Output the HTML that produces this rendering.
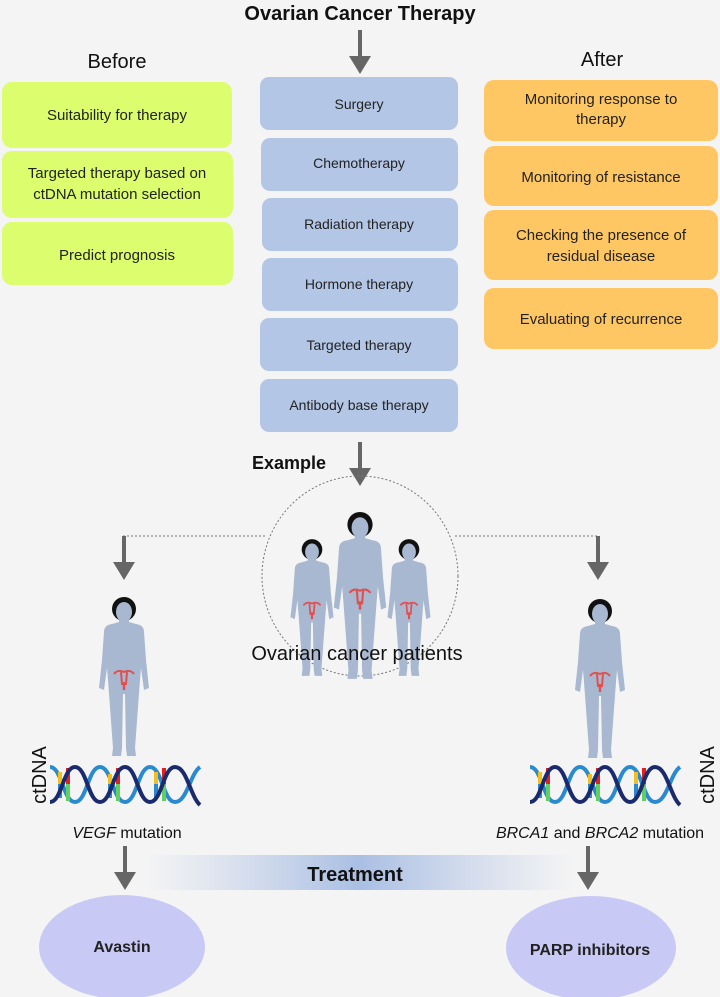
<!DOCTYPE html>
<html><head><meta charset="utf-8"><style>
html,body{margin:0;padding:0;background:#f4f4f4}
svg{display:block}
text{font-family:"Liberation Sans",Arial,sans-serif}
</style></head><body>
<svg width="720" height="997" viewBox="0 0 720 997" xmlns="http://www.w3.org/2000/svg">
<defs>
<linearGradient id="tg" x1="0" x2="1" y1="0" y2="0">
<stop offset="0" stop-color="#b8c8e6" stop-opacity="0"/>
<stop offset="0.5" stop-color="#aabfe4"/>
<stop offset="1" stop-color="#b8c8e6" stop-opacity="0"/>
</linearGradient>
<g id="arr"><rect x="-2" y="0" width="4" height="30" fill="#666"/><path d="M-11,26 L11,26 L0,44 Z" fill="#666"/></g>
<g id="fig">
<path d="M-20,34 Q-20,27 -12,26 L-5,24 L-5,19 L5,19 L5,24 L12,26 Q20,27 20,34 L22,62 L25,90 L20,92 L17,70 L16,82 L11,150 L12,158 L3,158 L2,150 L1,96 L-1,96 L-2,150 L-3,158 L-12,158 L-11,150 L-16,82 L-17,70 L-20,92 L-25,90 L-22,62 Z" fill="#a8b8d0"/>
<ellipse cx="0" cy="11" rx="12" ry="12" fill="#111"/>
<ellipse cx="0" cy="14" rx="8" ry="10" fill="#a8b8d0"/>
<path d="M-10,76 Q-6,71 0,74 Q6,71 10,76 M-3,74 L-2,86 L2,86 L3,74" stroke="#e05050" stroke-width="2" fill="none"/>
<rect x="-1.2" y="84" width="2.4" height="8" fill="#e05050"/>
</g>
<g id="dna">
<path d="M0,5 C12,5 13,40 25,40 C37,40 38,5 50,5 C62,5 63,40 75,40 C87,40 88,5 100,5 C112,5 113,40 125,40 C137,40 140,12 150,5" stroke="#2a8ad0" stroke-width="4" fill="none"/>
<g stroke-width="4">
<line x1="10" y1="10" x2="10" y2="22" stroke="#f0c020"/><line x1="10" y1="22" x2="10" y2="36" stroke="#2a8ad0"/>
<line x1="18" y1="6" x2="18" y2="22" stroke="#e02020"/><line x1="18" y1="22" x2="18" y2="39" stroke="#60d060"/>
<line x1="60" y1="12" x2="60" y2="22" stroke="#f0c020"/><line x1="60" y1="22" x2="60" y2="36" stroke="#2a8ad0"/>
<line x1="68" y1="6" x2="68" y2="22" stroke="#e02020"/><line x1="68" y1="22" x2="68" y2="39" stroke="#60d060"/>
<line x1="106" y1="10" x2="106" y2="22" stroke="#f0c020"/><line x1="106" y1="22" x2="106" y2="36" stroke="#2a8ad0"/>
<line x1="114" y1="6" x2="114" y2="22" stroke="#e02020"/><line x1="114" y1="22" x2="114" y2="39" stroke="#60d060"/>
</g>
<path d="M0,40 C12,40 13,5 25,5 C37,5 38,40 50,40 C62,40 63,5 75,5 C87,5 88,40 100,40 C112,40 113,5 125,5 C137,5 140,34 150,43" stroke="#1a2a6c" stroke-width="4" fill="none"/>
</g>
</defs>

<text x="360" y="20" text-anchor="middle" font-size="20" font-weight="bold" fill="#111">Ovarian Cancer Therapy</text>
<use href="#arr" x="360" y="30"/>
<text x="117" y="68" text-anchor="middle" font-size="20" fill="#111">Before</text>
<text x="602" y="66" text-anchor="middle" font-size="20" fill="#111">After</text>

<g fill="#dcfd6e">
<rect x="2" y="82" width="230" height="66" rx="10"/>
<rect x="2" y="151" width="231" height="67" rx="10"/>
<rect x="2" y="222" width="231" height="63" rx="10"/>
</g>
<g font-size="15" fill="#222" text-anchor="middle">
<text x="117" y="120">Suitability for therapy</text>
<text x="117" y="178">Targeted therapy based on</text>
<text x="117" y="199">ctDNA mutation selection</text>
<text x="117" y="260">Predict prognosis</text>
</g>

<g fill="#b4c6e6">
<rect x="260" y="77" width="198" height="53" rx="9"/>
<rect x="261" y="138" width="197" height="53" rx="9"/>
<rect x="262" y="198" width="196" height="53" rx="9"/>
<rect x="262" y="258" width="196" height="53" rx="9"/>
<rect x="260" y="318" width="198" height="53" rx="9"/>
<rect x="260" y="379" width="198" height="53" rx="9"/>
</g>
<g font-size="14" fill="#222" text-anchor="middle">
<text x="359" y="109">Surgery</text>
<text x="359" y="168">Chemotherapy</text>
<text x="359" y="229">Radiation therapy</text>
<text x="359" y="289">Hormone therapy</text>
<text x="359" y="350">Targeted therapy</text>
<text x="359" y="410">Antibody base therapy</text>
</g>

<g fill="#fec764">
<rect x="484" y="80" width="234" height="61" rx="10"/>
<rect x="484" y="146" width="234" height="60" rx="10"/>
<rect x="484" y="210" width="234" height="70" rx="10"/>
<rect x="484" y="288" width="234" height="61" rx="10"/>
</g>
<g font-size="15" fill="#222" text-anchor="middle">
<text x="601" y="104">Monitoring response to</text>
<text x="601" y="124">therapy</text>
<text x="601" y="182">Monitoring of resistance</text>
<text x="601" y="240">Checking the presence of</text>
<text x="601" y="261">residual disease</text>
<text x="601" y="324">Evaluating of recurrence</text>
</g>

<text x="289" y="469" text-anchor="middle" font-size="18" font-weight="bold" fill="#111">Example</text>
<use href="#arr" x="360" y="442"/>

<ellipse cx="360" cy="576" rx="98" ry="100" fill="none" stroke="#777" stroke-width="1" stroke-dasharray="2,2"/>
<path d="M123,536 L265,536 M455,536 L598,536" stroke="#777" stroke-width="1" stroke-dasharray="2,2"/>
<use href="#arr" x="124" y="536"/>
<use href="#arr" x="598" y="536"/>

<use href="#fig" transform="translate(312,540) scale(0.86)"/>
<use href="#fig" transform="translate(409,540) scale(0.86)"/>
<use href="#fig" transform="translate(360,513) scale(1.05)"/>
<text x="357" y="660" text-anchor="middle" font-size="20" fill="#111">Ovarian cancer patients</text>

<use href="#fig" transform="translate(124,598)"/>
<use href="#fig" transform="translate(600,600)"/>

<use href="#dna" transform="translate(50,762)"/>
<use href="#dna" transform="translate(530,762)"/>
<text transform="translate(46,775) rotate(-90)" text-anchor="middle" font-size="20" fill="#111">ctDNA</text>
<text transform="translate(714,775) rotate(-90)" text-anchor="middle" font-size="20" fill="#111">ctDNA</text>

<text x="127" y="838" text-anchor="middle" font-size="16" fill="#111"><tspan font-style="italic">VEGF</tspan> mutation</text>
<text x="600" y="838" text-anchor="middle" font-size="16" fill="#111"><tspan font-style="italic">BRCA1</tspan> and <tspan font-style="italic">BRCA2</tspan> mutation</text>

<rect x="145" y="855" width="430" height="35" fill="url(#tg)"/>
<text x="355" y="881" text-anchor="middle" font-size="20" font-weight="bold" fill="#111">Treatment</text>
<use href="#arr" x="125" y="846"/>
<use href="#arr" x="588" y="846"/>

<ellipse cx="122" cy="947" rx="83" ry="52" fill="#c9c9f5"/>
<ellipse cx="591" cy="948" rx="85" ry="52" fill="#c9c9f5"/>
<text x="122" y="952" text-anchor="middle" font-size="16" font-weight="bold" fill="#222">Avastin</text>
<text x="590" y="955" text-anchor="middle" font-size="16" font-weight="bold" fill="#222">PARP inhibitors</text>
</svg>
</body></html>
